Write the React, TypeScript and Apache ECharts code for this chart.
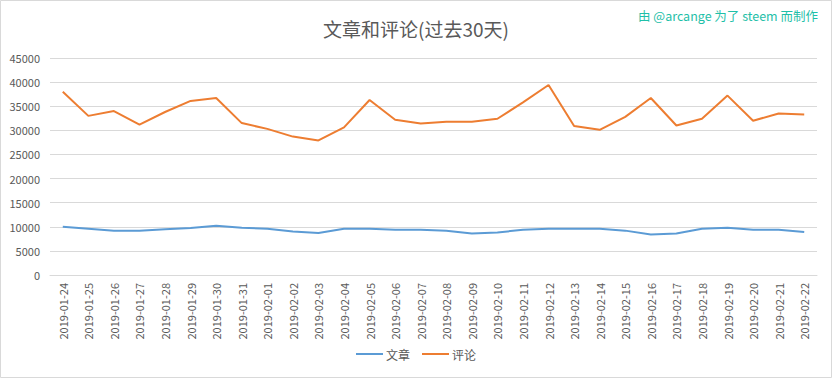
import React, { useEffect, useRef } from "react";
import * as echarts from "echarts";

const dates = [
  "2019-01-24", "2019-01-25", "2019-01-26", "2019-01-27", "2019-01-28", "2019-01-29",
  "2019-01-30", "2019-01-31", "2019-02-01", "2019-02-02", "2019-02-03", "2019-02-04",
  "2019-02-05", "2019-02-06", "2019-02-07", "2019-02-08", "2019-02-09", "2019-02-10",
  "2019-02-11", "2019-02-12", "2019-02-13", "2019-02-14", "2019-02-15", "2019-02-16",
  "2019-02-17", "2019-02-18", "2019-02-19", "2019-02-20", "2019-02-21", "2019-02-22",
];

const articles = [
  10000, 9600, 9200, 9200, 9500, 9750, 10200, 9800, 9600, 9000, 8700, 9600,
  9600, 9400, 9400, 9200, 8600, 8800, 9400, 9600, 9600, 9600, 9200, 8400,
  8600, 9600, 9800, 9400, 9400, 8900,
];

const comments = [
  38000, 33000, 34000, 31200, 33800, 36100, 36700, 31500, 30300, 28700, 27900, 30600,
  36300, 32200, 31400, 31800, 31800, 32400, 35800, 39400, 30900, 30100, 32800, 36700,
  31000, 32400, 37200, 32000, 33500, 33300,
];

const seriesNames = ["文章", "评论"];
const yTicks = { min: 0, max: 45000, interval: 5000 };

export default function App() {
  const ref = useRef<HTMLDivElement>(null);
  useEffect(() => {
    if (!ref.current) return;
    const chart = echarts.init(ref.current, undefined, { renderer: "svg" });
    const font = "'Noto Sans CJK SC', 'Noto Sans', sans-serif";
    chart.setOption({
      animation: false,
      backgroundColor: "#ffffff",
      textStyle: { fontFamily: font },
      title: {
        text: "文章和评论(过去30天)",
        left: "center",
        top: 14,
        textStyle: { fontSize: 19, fontWeight: "normal", color: "#595959", fontFamily: font },
      },
      graphic: [
        {
          type: "rect",
          shape: { x: 0.5, y: 0.5, width: 831, height: 377 },
          style: { fill: "none", stroke: "#d9d9d9", lineWidth: 1 },
          silent: true,
        },
        {
          type: "text",
          right: 14,
          top: 9,
          style: {
            text: "由 @arcange 为了 steem 而制作",
            fill: "#1fc0a8",
            fontSize: 12.5,
            fontFamily: font,
          },
        },
      ],
      legend: {
        bottom: 13,
        left: "center",
        data: seriesNames,
        icon: "rect",
        itemWidth: 27,
        itemHeight: 2,
        itemGap: 12,
        textStyle: { color: "#595959", fontSize: 12, fontFamily: font, padding: [0, 0, 0, -2] },
      },
      grid: { left: 50, right: 15, top: 58, bottom: 103, containLabel: false },
      xAxis: {
        type: "category",
        data: dates,
        boundaryGap: true,
        axisLine: { show: true, lineStyle: { color: "#d9d9d9" } },
        axisTick: { show: false },
        axisLabel: {
          rotate: 90,
          interval: 0,
          color: "#595959",
          fontSize: 11,
          margin: 8,
          fontFamily: font,
        },
      },
      yAxis: {
        type: "value",
        min: yTicks.min,
        max: yTicks.max,
        interval: yTicks.interval,
        axisLine: { show: false },
        axisTick: { show: false },
        splitLine: { lineStyle: { color: "#d9d9d9" } },
        axisLabel: {
          color: "#595959",
          fontSize: 11,
          margin: 10,
          fontFamily: font,
          formatter: (v: number) => String(v),
        },
      },
      series: [
        {
          name: seriesNames[0],
          type: "line",
          data: articles,
          symbol: "none",
          lineStyle: { color: "#5b9bd5", width: 2 },
          itemStyle: { color: "#5b9bd5" },
        },
        {
          name: seriesNames[1],
          type: "line",
          data: comments,
          symbol: "none",
          lineStyle: { color: "#ed7d31", width: 2 },
          itemStyle: { color: "#ed7d31" },
        },
      ],
    });
    return () => chart.dispose();
  }, []);
  return (
    <div
      ref={ref}
      style={{ position: "fixed", left: 0, top: 0, width: 832, height: 378 }}
    />
  );
}
